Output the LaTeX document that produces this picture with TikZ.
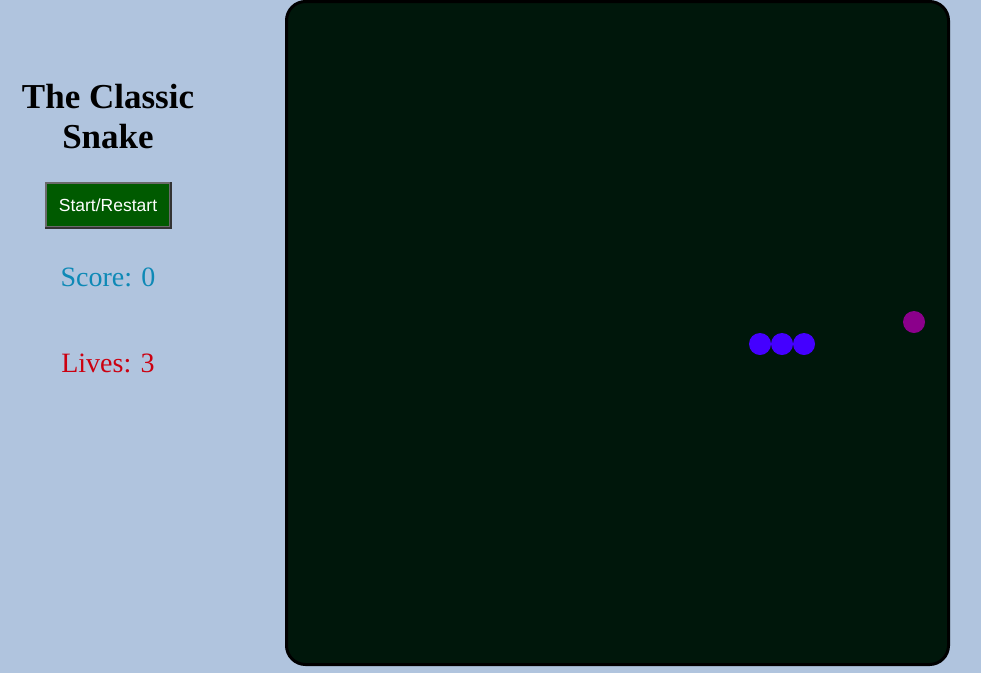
\documentclass[tikz,border=0pt]{standalone}
\usepackage{fontspec}
\setmainfont{Liberation Serif}
\newfontfamily\btnfont{Liberation Sans}
\definecolor{pagebg}{HTML}{B0C4DE}
\definecolor{boardbg}{HTML}{00170B}
\definecolor{btngreen}{HTML}{005A00}
\definecolor{btnedge}{HTML}{6A6A6A}
\definecolor{btnshade}{HTML}{333333}
\definecolor{scorecol}{HTML}{0E89B6}
\definecolor{livescol}{HTML}{CC0010}
\definecolor{snakecol}{HTML}{4400FF}
\definecolor{foodcol}{HTML}{8B008B}
\begin{document}
\begin{tikzpicture}[x=1pt,y=-1pt,
  info/.style={inner sep=0pt,font=\fontsize{28}{30}\selectfont},
  segment/.style={circle,fill=snakecol,minimum size=22pt,inner sep=0pt}]
\useasboundingbox[fill=pagebg](0,0)rectangle(981,673);
% board
\draw[line width=3pt,fill=boardbg,rounded corners=19pt](286.5,1.5)rectangle(948.5,664.5);
% side panel
\node[align=center,inner sep=0pt,font=\fontsize{35}{40}\selectfont\bfseries](title)at(108,117){The Classic\\Snake};
\node[draw=btnedge,line width=2pt,fill=btngreen,text=white,minimum width=124pt,minimum height=44pt,inner sep=0pt,
  font=\btnfont\fontsize{17.5}{20}\selectfont](start)at(108,205){Start/Restart};
\draw[btnshade,line width=2pt](start.south west)--(start.south east)--(start.north east);
\node[info,text=scorecol](score)at(108,277){Score: 0};
\node[info,text=livescol](lives)at(108,363){Lives: 3};
% snake and food
\foreach \x/\n in {760/s1,782/s2,804/s3}
  \node[segment](\n)at(\x,344){};
\node[circle,fill=foodcol,minimum size=22pt,inner sep=0pt](food)at(914,322){};
\end{tikzpicture}
\end{document}
